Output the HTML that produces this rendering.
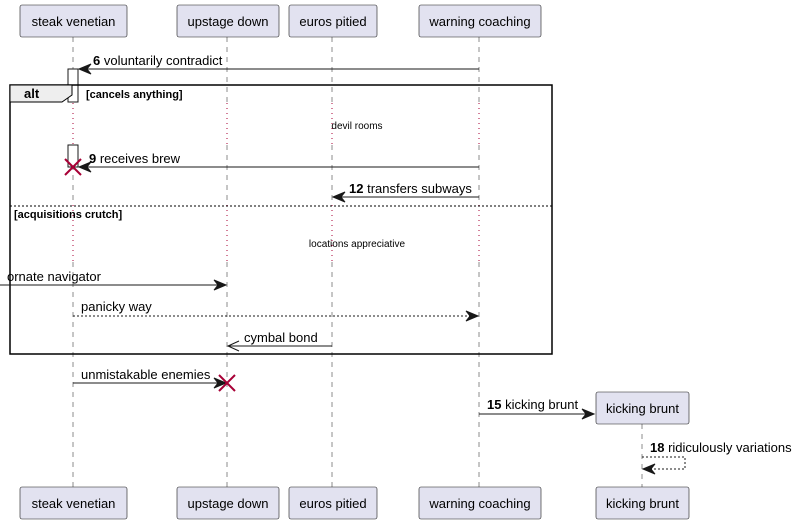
<!DOCTYPE html>
<html><head><meta charset="utf-8"><style>
body{margin:0;background:#fff}
svg{display:block}
text{font-family:"Liberation Sans",sans-serif;font-size:13px;fill:#000}
.box{fill:#e2e2f0;stroke:#181818;stroke-width:0.6}
.ll{stroke:#181818;stroke-width:0.5;stroke-dasharray:5,5}
.dl{stroke:#a80036;stroke-width:1;stroke-dasharray:1,4}
.m{stroke:#181818;stroke-width:1;fill:none}
.d{stroke:#181818;stroke-width:1;fill:none;stroke-dasharray:2,2}
.ah{fill:#181818;stroke:#181818}
.x{stroke:#a80036;stroke-width:2}
</style></head><body>
<svg width="796" height="523" viewBox="0 0 796 523">
<!-- lifelines -->
<line class="ll" x1="73" y1="37" x2="73" y2="103"/>
<line class="dl" x1="73" y1="103" x2="73" y2="145"/>
<line class="ll" x1="73" y1="145" x2="73" y2="205"/>
<line class="dl" x1="73" y1="205" x2="73" y2="262"/>
<line class="ll" x1="73" y1="262" x2="73" y2="487"/>
<line class="ll" x1="227" y1="37" x2="227" y2="103"/>
<line class="dl" x1="227" y1="103" x2="227" y2="145"/>
<line class="ll" x1="227" y1="145" x2="227" y2="205"/>
<line class="dl" x1="227" y1="205" x2="227" y2="262"/>
<line class="ll" x1="227" y1="262" x2="227" y2="487"/>
<line class="ll" x1="332" y1="37" x2="332" y2="103"/>
<line class="dl" x1="332" y1="103" x2="332" y2="145"/>
<line class="ll" x1="332" y1="145" x2="332" y2="205"/>
<line class="dl" x1="332" y1="205" x2="332" y2="262"/>
<line class="ll" x1="332" y1="262" x2="332" y2="487"/>
<line class="ll" x1="479" y1="37" x2="479" y2="103"/>
<line class="dl" x1="479" y1="103" x2="479" y2="145"/>
<line class="ll" x1="479" y1="145" x2="479" y2="205"/>
<line class="dl" x1="479" y1="205" x2="479" y2="262"/>
<line class="ll" x1="479" y1="262" x2="479" y2="487"/>
<line class="ll" x1="642" y1="424" x2="642" y2="487"/>
<!-- activation -->
<rect x="68" y="69" width="10" height="33" fill="#fff" stroke="#181818" stroke-width="1"/>
<rect x="68" y="145" width="10" height="22" fill="#fff" stroke="#181818" stroke-width="1"/>
<!-- frame -->
<rect x="10" y="85" width="542" height="269" fill="none" stroke="#000" stroke-width="1.5"/>
<path d="M10 85 H72 V95 L62 102 H10 Z" fill="#eee" stroke="#000" stroke-width="1"/>
<text x="24" y="98" style="font-weight:bold">alt</text>
<text x="86" y="98" style="font-size:11px;font-weight:bold">[cancels anything]</text>
<line x1="10" y1="206" x2="552" y2="206" stroke="#000" stroke-width="1" stroke-dasharray="2,2"/>
<text x="14" y="218" style="font-size:11px;font-weight:bold">[acquisitions crutch]</text>
<text x="357" y="129" text-anchor="middle" style="font-size:10px">devil rooms</text>
<text x="357" y="247" text-anchor="middle" style="font-size:10px">locations appreciative</text>
<!-- msg 6 -->
<line class="m" x1="479" y1="69" x2="80" y2="69"/>
<path class="ah" d="M79 69 L91 64 L87 69 L91 74 Z"/>
<text x="93" y="65"><tspan font-weight="bold">6</tspan> voluntarily contradict</text>
<!-- msg 9 -->
<line class="m" x1="479" y1="167" x2="80" y2="167"/>
<path class="ah" d="M79 167 L91 162 L87 167 L91 172 Z"/>
<text x="89" y="163"><tspan font-weight="bold">9</tspan> receives brew</text>
<line class="x" x1="65" y1="159" x2="81" y2="175"/><line class="x" x1="81" y1="159" x2="65" y2="175"/>
<!-- msg 12 -->
<line class="m" x1="479" y1="197" x2="334" y2="197"/>
<path class="ah" d="M333 197 L345 192 L341 197 L345 202 Z"/>
<text x="349" y="193"><tspan font-weight="bold">12</tspan> transfers subways</text>
<!-- ornate -->
<line class="m" x1="0" y1="285" x2="225" y2="285"/>
<path class="ah" d="M226 285 L214 280 L218 285 L214 290 Z"/>
<text x="7" y="281">ornate navigator</text>
<!-- panicky -->
<line class="d" x1="73" y1="316" x2="477" y2="316"/>
<path class="ah" d="M478 316 L466 311 L470 316 L466 321 Z"/>
<text x="81" y="311">panicky way</text>
<!-- cymbal -->
<line class="m" x1="332" y1="346" x2="228" y2="346"/>
<path class="m" d="M239 341 L228 346 L239 351"/>
<text x="244" y="342">cymbal bond</text>
<!-- unmistakable -->
<line class="m" x1="73" y1="383" x2="225" y2="383"/>
<path class="ah" d="M226 383 L214 378 L218 383 L214 388 Z"/>
<text x="81" y="379">unmistakable enemies</text>
<line class="x" x1="219" y1="375" x2="235" y2="391"/><line class="x" x1="235" y1="375" x2="219" y2="391"/>
<!-- 15 -->
<line class="m" x1="479" y1="414" x2="593" y2="414"/>
<path class="ah" d="M594 414 L582 409 L586 414 L582 419 Z"/>
<text x="487" y="409"><tspan font-weight="bold">15</tspan> kicking brunt</text>
<!-- 18 -->
<path class="d" d="M642 457 H685 V469 H644"/>
<path class="ah" d="M643 469 L655 464 L651 469 L655 474 Z"/>
<text x="650" y="452"><tspan font-weight="bold">18</tspan> ridiculously variations</text>
<!-- boxes top -->
<rect class="box" x="20" y="5" width="107" height="32" rx="2"/><text x="73.5" y="26" text-anchor="middle">steak venetian</text>
<rect class="box" x="177" y="5" width="102" height="32" rx="2"/><text x="228" y="26" text-anchor="middle">upstage down</text>
<rect class="box" x="289" y="5" width="88" height="32" rx="2"/><text x="333" y="26" text-anchor="middle">euros pitied</text>
<rect class="box" x="419" y="5" width="122" height="32" rx="2"/><text x="480" y="26" text-anchor="middle">warning coaching</text>
<rect class="box" x="596" y="392" width="93" height="32" rx="2"/><text x="642.5" y="413" text-anchor="middle">kicking brunt</text>
<!-- boxes bottom -->
<rect class="box" x="20" y="487" width="107" height="32" rx="2"/><text x="73.5" y="508" text-anchor="middle">steak venetian</text>
<rect class="box" x="177" y="487" width="102" height="32" rx="2"/><text x="228" y="508" text-anchor="middle">upstage down</text>
<rect class="box" x="289" y="487" width="88" height="32" rx="2"/><text x="333" y="508" text-anchor="middle">euros pitied</text>
<rect class="box" x="419" y="487" width="122" height="32" rx="2"/><text x="480" y="508" text-anchor="middle">warning coaching</text>
<rect class="box" x="596" y="487" width="93" height="32" rx="2"/><text x="642.5" y="508" text-anchor="middle">kicking brunt</text>
</svg>
</body></html>
